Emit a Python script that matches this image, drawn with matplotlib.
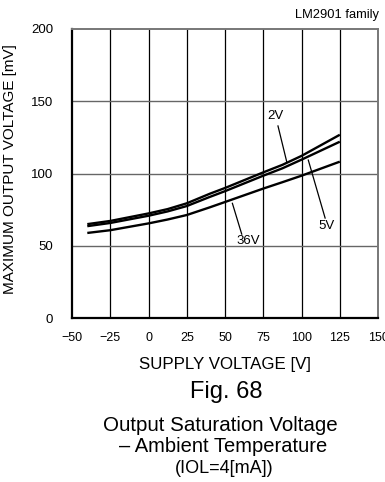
import matplotlib.pyplot as plt
import numpy as np

plt.rcParams['font.family'] = ['Liberation Sans', 'DejaVu Sans']

# ambient temperature [degC] and saturation voltage [mV] per supply
temps = [-40, -25, 0, 12.5, 25, 40, 50, 75, 87.5, 100, 125]
vol_2v = [65.0, 67.2, 72.4, 75.4, 79.4, 86.0, 90.0, 100.8, 106.0, 112.2, 126.8]
vol_5v = [63.6, 65.8, 70.8, 73.8, 77.5, 83.8, 87.8, 98.5, 103.6, 109.6, 122.0]
vol_36v = [58.9, 60.8, 65.5, 68.2, 71.3, 76.6, 80.3, 89.6, 94.0, 98.5, 108.2]

xticks = [-50, -25, 0, 25, 50, 75, 100, 125, 150]
yticks = [0, 50, 100, 150, 200]

fig = plt.figure(figsize=(3.85, 4.82), dpi=100)
ax = fig.add_axes([0.187, 0.340, 0.795, 0.600])

for vals in (vol_2v, vol_5v, vol_36v):
    ax.plot(temps, vals, color='black', lw=1.7, solid_capstyle='butt',
            solid_joinstyle='round')

ax.set_xlim(-50, 150)
ax.set_ylim(0, 200)
ax.set_xticks(xticks)
ax.set_yticks(yticks)
ax.set_xticklabels([str(t).replace('-', '\u2212') for t in xticks])
ax.tick_params(length=0)
ax.tick_params(axis='x', pad=10, labelsize=9)
ax.tick_params(axis='y', pad=13.5, labelsize=9.5)

# vertical grid dark, horizontal grid grey
for x in xticks[1:-1]:
    ax.axvline(x, color='black', lw=0.9, zorder=0)
for y in yticks[1:-1]:
    ax.axhline(y, color='#666666', lw=1.0, zorder=0)

for side in ('left', 'bottom'):
    ax.spines[side].set_color('black')
    ax.spines[side].set_linewidth(1.6)
for side in ('top', 'right'):
    ax.spines[side].set_color('#777777')
    ax.spines[side].set_linewidth(1.4)

# curve labels with leader lines
ax.plot([84.6, 90.3], [132.9, 108.2], color='black', lw=0.9)
ax.text(82.7, 139.8, '2V', fontsize=9.5, ha='center', va='center')
ax.plot([104.4, 115.4], [109.3, 69.2], color='black', lw=0.9)
ax.text(116.5, 63.7, '5V', fontsize=9.5, ha='center', va='center')
ax.plot([54.8, 60.9], [79.4, 58.1], color='black', lw=0.9)
ax.text(65.2, 53.0, '36V', fontsize=9.5, ha='center', va='center')

ax.set_ylabel('MAXIMUM OUTPUT VOLTAGE [mV]', fontsize=11)
ax.yaxis.set_label_coords(-0.18, 0.516)

fig.text(0.875, 0.969, 'LM2901 family', fontsize=9.3, ha='center', va='center')
fig.text(0.584, 0.243, 'SUPPLY VOLTAGE [V]', fontsize=12.2, ha='center', va='center')
fig.text(0.587, 0.187, 'Fig. 68', fontsize=17, ha='center', va='center')
fig.text(0.571, 0.117, 'Output Saturation Voltage', fontsize=14.8, ha='center', va='center')
fig.text(0.579, 0.073, '\u2013 Ambient Temperature', fontsize=14.5, ha='center', va='center')
fig.text(0.582, 0.029, '(IOL=4[mA])', fontsize=13, ha='center', va='center')

fig.savefig('out.png', dpi=100)
